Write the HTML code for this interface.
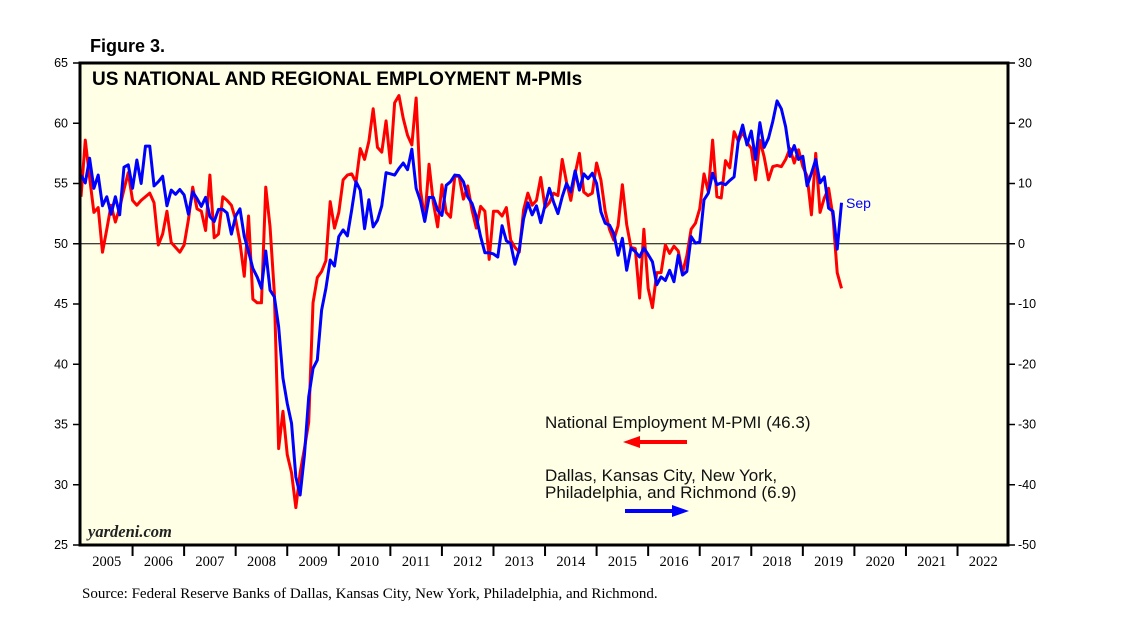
<!DOCTYPE html>
<html><head><meta charset="utf-8"><style>
body{margin:0;background:#fff;width:1138px;height:621px;overflow:hidden}
svg{display:block}
.s{font-family:"Liberation Sans",sans-serif}
.r{font-family:"Liberation Serif",serif}
</style></head><body>
<svg id="c" width="1138" height="621">
<text x="90" y="52" class="s" font-size="18" font-weight="bold">Figure 3.</text>
<rect x="80" y="63" width="928" height="482" fill="#ffffe6"/>
<g id="grid"></g>
<g id="series"></g>
<rect x="80" y="63" width="928" height="482" fill="none" stroke="#000" stroke-width="3"/>
<text x="92" y="85" class="s" font-size="19" font-weight="bold">US NATIONAL AND REGIONAL EMPLOYMENT M-PMIs</text>
<text x="88" y="537" class="r" font-size="16.5" font-style="italic" font-weight="bold" fill="#222">yardeni.com</text>
<text x="545" y="428" class="s" font-size="17" fill="#111">National Employment M-PMI (46.3)</text>
<g><line x1="687" y1="442" x2="636" y2="442" stroke="#f00" stroke-width="4"/><polygon points="623,442 640,436 640,448" fill="#f00"/></g>
<text x="545" y="481" class="s" font-size="17" fill="#111">Dallas, Kansas City, New York,</text>
<text x="545" y="498" class="s" font-size="17" fill="#111">Philadelphia, and Richmond (6.9)</text>
<g><line x1="625" y1="511" x2="676" y2="511" stroke="#00f" stroke-width="4"/><polygon points="689,511 672,505 672,517" fill="#00f"/></g>
<text x="846" y="208" class="s" font-size="14" fill="#00f">Sep</text>
<text x="82" y="598" class="r" font-size="15">Source: Federal Reserve Banks of Dallas, Kansas City, New York, Philadelphia, and Richmond.</text>
</svg>
<script>
const leftTicks=[25,30,35,40,45,50,55,60,65];
const rightTicks=[-50,-40,-30,-20,-10,0,10,20,30];
const years=[2005,2006,2007,2008,2009,2010,2011,2012,2013,2014,2015,2016,2017,2018,2019,2020,2021,2022];
const national=[53.9,58.6,55.5,52.6,53.0,49.3,51.2,53.2,51.8,53.0,54.5,55.9,53.6,53.2,53.6,53.9,54.2,53.4,49.9,50.8,52.7,50.1,49.7,49.3,49.9,52.0,54.7,52.9,52.7,51.1,55.7,50.5,50.8,53.9,53.6,53.2,52.0,50.1,47.3,52.3,45.4,45.1,45.1,54.7,51.4,45.9,33.0,36.1,32.5,31.0,28.1,31.0,33.0,35.2,45.1,47.2,47.7,48.6,53.5,51.3,52.6,55.3,55.7,55.8,55.1,57.9,57.0,58.5,61.2,58.0,57.6,60.2,56.7,61.7,62.3,60.4,59.0,58.2,62.1,54.5,52.0,56.6,53.4,51.4,54.9,52.6,52.2,55.6,55.6,53.7,54.8,52.8,51.3,53.1,52.7,48.7,52.7,52.7,52.3,53.0,50.3,49.7,49.3,52.8,54.2,53.2,53.6,55.5,53.0,53.4,54.2,54.0,57.0,55.1,53.6,55.8,57.5,54.3,54.0,54.2,56.7,55.3,52.7,51.2,50.3,51.5,54.9,51.6,49.7,49.6,45.5,51.2,46.3,44.7,47.6,47.6,49.9,49.2,49.8,49.4,47.6,49.0,51.2,51.7,52.9,55.8,54.3,58.6,53.9,53.8,56.9,56.3,59.3,58.5,59.3,58.4,57.9,55.3,58.6,57.2,55.3,56.4,56.5,56.4,57.0,57.9,56.7,57.8,56.4,55.6,52.4,57.5,52.6,53.8,54.6,52.3,47.6,46.3];
const regional=[11.4,10.1,14.2,9.2,11.4,6.3,7.8,4.9,7.8,4.8,12.7,13.1,9.2,13.9,10.0,16.2,16.2,9.6,10.3,11.2,6.3,8.9,8.2,9.0,8.1,4.9,8.6,7.5,6.2,7.7,4.5,3.7,5.7,5.7,5.1,1.6,4.6,5.8,1.2,-1.3,-4.1,-5.5,-7.4,-1.2,-7.7,-8.8,-13.8,-22.3,-26.5,-29.8,-38.7,-41.7,-35.1,-25.4,-20.7,-19.3,-11.0,-7.4,-2.7,-3.7,1.2,2.3,1.3,5.6,10.3,8.9,2.5,7.3,2.8,3.9,6.3,11.8,11.6,11.4,12.5,13.4,12.3,15.7,9.2,7.1,3.7,7.7,7.7,5.6,4.7,9.7,10.3,11.4,11.3,10.3,7.8,6.7,4.5,1.2,-1.5,-1.5,-1.7,-2.2,3.0,0.5,0.0,-3.4,-1.0,4.1,6.8,4.8,6.3,3.5,6.4,9.2,6.9,5.0,7.8,10.0,8.6,12.1,8.9,11.6,10.8,11.7,10.0,5.3,3.4,3.1,1.7,-1.9,0.9,-4.4,-0.7,-1.3,-2.2,-0.7,-1.8,-3.0,-6.8,-5.5,-6.1,-4.4,-6.3,-1.9,-5.2,-4.6,1.2,0.1,0.3,7.3,8.4,11.7,9.8,10.1,9.8,10.5,11.1,17.2,19.7,16.4,18.7,14.0,20.1,16.0,17.5,20.3,23.7,22.4,19.4,14.5,16.3,14.0,14.5,9.6,11.7,14.0,10.1,11.1,5.9,5.4,-0.9,6.8];
const X0=81,YW=51.56,T=63,B=545;
const xm=i=>X0+i*YW/12;
const yl=v=>T+(65-v)*(B-T)/40;
const yr=v=>T+(30-v)*(B-T)/80;
const NS='http://www.w3.org/2000/svg';
function mk(t,a,p){const e=document.createElementNS(NS,t);for(const k in a)e.setAttribute(k,a[k]);p.appendChild(e);return e;}
const g=document.getElementById('grid'),svg=document.getElementById('c');
const zl=mk('line',{x1:80,x2:1008,y1:yr(0),y2:yr(0),stroke:'#000','stroke-width':1},g);


leftTicks.forEach(v=>{const y=yl(v);
 const t=mk('line',{x1:73,x2:80,y1:y,y2:y,stroke:'#000','stroke-width':1.5},svg);
 
 
 const l=mk('text',{x:68,y:y+4,'text-anchor':'end','font-size':12.5,class:'s'},svg);l.textContent=v;
 
 });
rightTicks.forEach(v=>{const y=yr(v);
 const t=mk('line',{x1:1008,x2:1015,y1:y,y2:y,stroke:'#000','stroke-width':1.5},svg);
 
 
 const l=mk('text',{x:1018,y:y+4,'font-size':12.5,class:'s'},svg);l.textContent=v;
 
 });
years.forEach((yv,k)=>{const x=X0+k*YW;
 if(k>0){const t=mk('line',{x1:x,x2:x,y1:545,y2:556,stroke:'#000','stroke-width':2},svg);
 
 }
 const l=mk('text',{x:x+YW/2,y:566,'text-anchor':'middle','font-size':14.5,class:'r'},svg);l.textContent=yv;
 
 });
const s=document.getElementById('series');
const pr=mk('polyline',{points:national.map((v,i)=>xm(i)+','+yl(v)).join(' '),fill:'none',stroke:'#f00','stroke-width':3,'stroke-linejoin':'round'},s);


const pb=mk('polyline',{points:regional.map((v,i)=>xm(i)+','+yr(v)).join(' '),fill:'none',stroke:'#00f','stroke-width':3,'stroke-linejoin':'round'},s);


</script>
</body></html>
